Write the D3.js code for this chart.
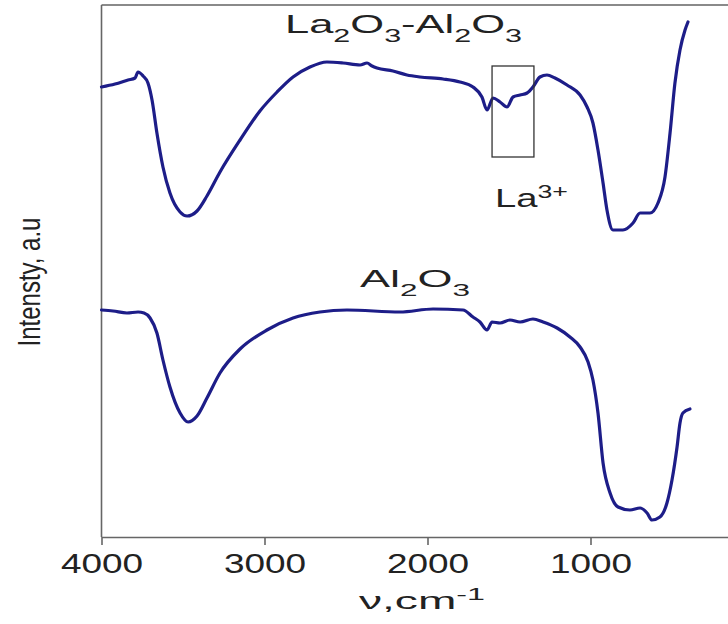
<!DOCTYPE html>
<html>
<head>
<meta charset="utf-8">
<script src="https://cdn.jsdelivr.net/npm/d3@7"></script>
<style>
  body { margin: 0; background: #ffffff; }
  text { font-family: 'Liberation Sans', Arial, sans-serif; fill: #222; }
</style>
</head>
<body>
<div id="chart"></div>
<script>
// IR spectra (wavenumber in cm-1, intensity in arbitrary units)
const laAlWave = [4000, 3917, 3837, 3794, 3776, 3745, 3715, 3690, 3660, 3623, 3580, 3518, 3475, 3414,
  3353, 3273, 3150, 3028, 2923, 2825, 2721, 2617, 2518, 2414, 2371, 2340, 2310, 2212, 2126, 2046,
  1905, 1801, 1721, 1666, 1635, 1598, 1555, 1512, 1475, 1432, 1389, 1353, 1310, 1267, 1218, 1144,
  1064, 1021, 985, 954, 923, 899, 862, 801, 739, 696, 635, 586, 543, 512, 482, 451, 420, 402];
const laAlValue = [450, 453, 457, 459, 465, 461, 454, 437, 404, 370, 344, 325, 321, 326,
  341, 365, 397, 426, 445, 460, 470, 475, 474, 472, 474, 471, 469, 466, 462, 460,
  458, 455, 450, 440, 427, 439, 435, 430, 440, 442, 444, 450, 460, 462, 459, 452,
  442, 430, 414, 387, 354, 327, 307, 307, 314, 324, 324, 334, 360, 404, 454, 487, 507, 515];

const alWave = [4000, 3929, 3844, 3776, 3739, 3702, 3660, 3623, 3580, 3518, 3469, 3414, 3353, 3273,
  3150, 2985, 2825, 2660, 2494, 2169, 1966, 1782, 1721, 1678, 1635, 1604, 1555, 1494, 1432, 1353,
  1291, 1205, 1126, 1064, 1015, 985, 954, 923, 880, 831, 758, 696, 653, 623, 574, 531, 500, 469,
  451, 433, 390];
const alValue = [227, 226, 224, 225, 224, 219, 204, 177, 150, 124, 115, 121, 139, 164,
  188, 207, 219, 225, 227, 225, 228, 227, 220, 215, 207, 215, 214, 217, 215, 218,
  215, 209, 200, 190, 175, 157, 124, 74, 44, 30, 27, 29, 24, 17, 20, 34, 57, 90,
  114, 124, 128];

const xTicks = [4000, 3000, 2000, 1000];
const boxWave = [1604, 1347];
const boxValue = [380, 471];

const W = 728, H = 624;
const plotLeft = 101.5, plotTop = 5, plotBottom = 537;

const svg = d3.select('#chart').append('svg')
    .attr('width', W)
    .attr('height', H);

const xScale = d3.scaleLinear().domain([4000, 0]).range([plotLeft, plotLeft + 652]),
      yScale = d3.scaleLinear().domain([0, 532]).range([plotBottom, plotTop]);

const line = d3.line()
    .x(function(d) { return xScale(d[0]); })
    .y(function(d) { return yScale(d[1]); })
    .curve(d3.curveMonotoneX);

// frame: left axis, top border, bottom axis
svg.append('line')
    .attr('x1', plotLeft).attr('x2', W)
    .attr('y1', plotTop).attr('y2', plotTop)
    .attr('stroke', '#8a8a8a').attr('stroke-width', 2);

svg.append('line')
    .attr('x1', plotLeft).attr('x2', plotLeft)
    .attr('y1', plotTop).attr('y2', plotBottom)
    .attr('stroke', '#666').attr('stroke-width', 1.6);

const xAxis = svg.append('g')
    .attr('transform', 'translate(0,' + plotBottom + ')')
    .call(d3.axisBottom(xScale).tickValues(xTicks).tickSize(8).tickSizeOuter(0).tickFormat(d3.format('d')));

xAxis.select('.domain').attr('stroke', '#666').attr('stroke-width', 1.6);
xAxis.selectAll('.tick line').attr('stroke', '#666').attr('stroke-width', 1.6);
xAxis.selectAll('.tick text')
    .attr('y', 36).attr('dy', 0)
    .attr('transform', 'scale(1.32,1)')
    .style('font-family', "'Liberation Sans', Arial, sans-serif")
    .style('font-size', '28px')
    .style('fill', '#222');

// spectra
const spectra = [
  d3.zip(laAlWave, laAlValue),
  d3.zip(alWave, alValue)
];

svg.selectAll('path.spectrum')
    .data(spectra)
  .enter().append('path')
    .attr('class', 'spectrum')
    .attr('fill', 'none')
    .attr('stroke', '#1d1d88')
    .attr('stroke-width', 3.2)
    .attr('stroke-linejoin', 'round')
    .attr('stroke-linecap', 'round')
    .attr('d', line);

// La3+ marker box
svg.append('rect')
    .attr('x', xScale(boxWave[0]))
    .attr('y', yScale(boxValue[1]))
    .attr('width', xScale(boxWave[1]) - xScale(boxWave[0]))
    .attr('height', yScale(boxValue[0]) - yScale(boxValue[1]))
    .attr('fill', 'none')
    .attr('stroke', '#333')
    .attr('stroke-width', 1.3);

// text with sub/superscripts, stretched to the width seen in the picture
function label(x, y, parts, size, width) {
  const t = svg.append('text')
      .attr('x', 0).attr('y', 0)
      .style('font-size', size + 'px');
  let shift = 0;
  parts.forEach(function(p) {
    const want = p[1] === 'sub' ? size * 0.36 : p[1] === 'sup' ? -size * 0.36 : 0;
    t.append('tspan')
        .attr('dy', want - shift)
        .style('font-size', (p[1] ? size * 0.7 : size) + 'px')
        .text(p[0]);
    shift = want;
  });
  const w = t.node().getBBox().width;
  t.attr('transform', 'translate(' + x + ',' + y + ') scale(' + (width / w) + ',1)');
  return t;
}

label(285, 33, [['La'], ['2', 'sub'], ['O'], ['3', 'sub'], ['-Al'], ['2', 'sub'], ['O'], ['3', 'sub']], 25, 237);
label(495, 207, [['La'], ['3+', 'sup']], 26, 73);
label(360, 287, [['Al'], ['2', 'sub'], ['O'], ['3', 'sub']], 24, 110);
label(359, 609, [['\u03bd,cm'], ['-1', 'sup']], 24, 126);

svg.append('text')
    .attr('transform', 'translate(29,282) scale(1.27,1) rotate(-90)')
    .attr('text-anchor', 'middle')
    .attr('dy', '0.35em')
    .style('font-size', '24px')
    .text('Intensty, a.u');
</script>
</body>
</html>
